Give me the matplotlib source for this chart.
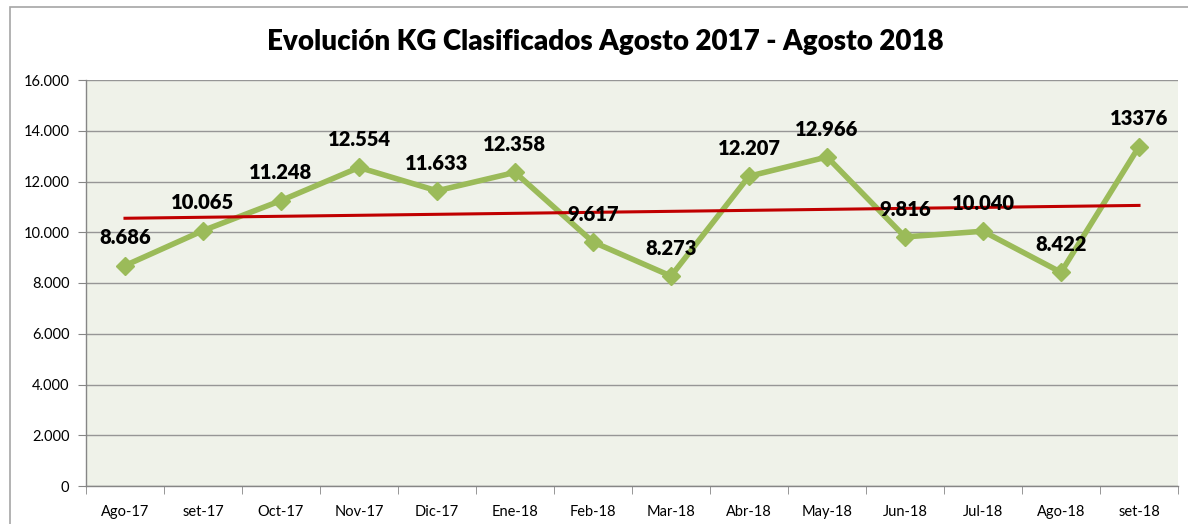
import matplotlib
matplotlib.use("Agg")
import matplotlib.pyplot as plt
import numpy as np
from matplotlib.ticker import FixedLocator, FuncFormatter
from matplotlib.patches import Rectangle

categories = ["Ago-17", "set-17", "Oct-17", "Nov-17", "Dic-17", "Ene-18", "Feb-18",
              "Mar-18", "Abr-18", "May-18", "Jun-18", "Jul-18", "Ago-18", "set-18"]
values = [8686, 10065, 11248, 12554, 11633, 12358, 9617, 8273, 12207, 12966, 9816, 10040, 8422, 13376]
value_labels = ["8.686", "10.065", "11.248", "12.554", "11.633", "12.358", "9.617", "8.273",
                "12.207", "12.966", "9.816", "10.040", "8.422", "13376"]
y_ticks = [0, 2000, 4000, 6000, 8000, 10000, 12000, 14000, 16000]
title = "Evolución KG Clasificados Agosto 2017 - Agosto 2018"

plt.rcParams['font.family'] = ['Lato', 'DejaVu Sans']

W, H = 1188, 524
fig = plt.figure(figsize=(W / 100, H / 100), dpi=100)
fig.patch.set_facecolor("white")

# outer chart border
fig.patches.append(Rectangle((10 / W, -0.05), 1.2, (524 - 7) / H + 0.05, transform=fig.transFigure,
                             fill=False, edgecolor="#A6A6A6", linewidth=1.2))

ax = fig.add_axes([86 / W, (H - 486) / H, (1178 - 86) / W, (486 - 80) / H])
ax.set_facecolor("#EFF2E9")

x = np.arange(len(categories))
ax.plot(x, values, color="#9BBB59", linewidth=4, marker="D", markersize=9,
        markeredgecolor="#9BBB59", markerfacecolor="#9BBB59", zorder=3)

# linear trendline
coef = np.polyfit(x, values, 1)
ax.plot(x, np.polyval(coef, x), color="#C00000", linewidth=2.2, zorder=4)

for xi, v, lab in zip(x, values, value_labels):
    ax.annotate(lab, (xi, v), xytext=(0, 20), textcoords="offset points",
                ha="center", va="center", fontsize=14.5, fontweight="heavy", color="black", zorder=5)

ax.set_xlim(-0.5, len(categories) - 0.5)
ax.set_ylim(0, 16000)
ax.set_xticks(x)
ax.set_xticklabels(categories, fontsize=10.5)
ax.xaxis.set_minor_locator(FixedLocator(np.arange(-0.5, len(categories), 1)))
ax.tick_params(axis="x", which="major", length=0, pad=14)
ax.tick_params(axis="x", which="minor", length=6, color="#868686", direction="out")
ax.set_yticks(y_ticks)
ax.yaxis.set_major_formatter(FuncFormatter(lambda v, p: f"{int(v):,}".replace(",", ".")))
ax.tick_params(axis="y", length=6, color="#868686", labelsize=10.5, pad=6)
ax.grid(axis="y", color="#969696", linewidth=1)
ax.set_axisbelow(True)
for s in ["top", "right"]:
    ax.spines[s].set_visible(False)
for s in ["left", "bottom"]:
    ax.spines[s].set_color("#868686")
    ax.spines[s].set_linewidth(1)

fig.text(605 / W, 1 - 42 / H, title, ha="center", va="center", fontsize=20, fontweight="heavy")

fig.savefig("out.png", dpi=100)
